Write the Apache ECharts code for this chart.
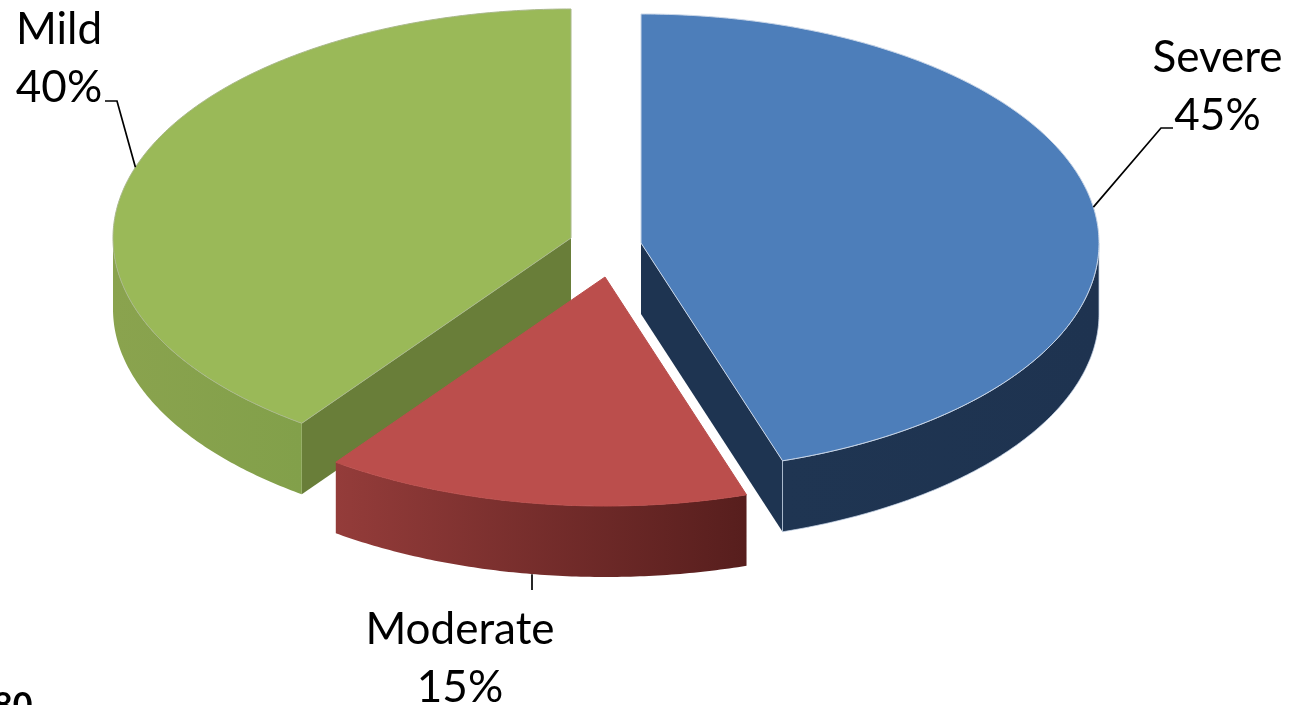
<!DOCTYPE html>
<html>
<head>
<meta charset="utf-8">
<style>html,body{margin:0;padding:0;background:#fff;overflow:hidden}#c{width:1291px;height:705px}</style>
<script src="https://cdn.jsdelivr.net/npm/echarts@6/dist/echarts.min.js"></script>
</head>
<body>
<div id="c"></div>
<script>
const categories = ['Severe', 'Moderate', 'Mild'];
const shares = [45, 15, 40];

const RX = 458, RY = 229, DEPTH = 71;
const FONT = 'Lato, Carlito, "Open Sans", sans-serif';
const sliceStyle = {
  Severe:   {apex: [641, 243], top: '#4D7EBA', cut: '#1E3451', wall: ['#1F3552', '#1E3350'], edge: '#C9D6E8', wallEdge: 'rgba(200,214,232,0.75)', order: 2,
             label: [1217.5, 87], elbow: [[1161, 128], [1173, 128]]},
  Moderate: {apex: [605, 277], top: '#BB4E4C', cut: '#7A2E2C', wall: ['#943C3A', '#571E1D'], edge: '#BB4E4C', order: 3,
             label: [460, 659], elbow: [[532, 590]]},
  Mild:     {apex: [571, 238], top: '#9AB958', cut: '#697E39', wall: ['#8AA34E', '#82A04A'], edge: '#A9B88A', order: 1,
             label: [59, 59], elbow: [[117, 101], [105, 101]]}
};

const total = shares.reduce((a, b) => a + b, 0);
const seriesData = categories.map((name, i) => ({name, value: [shares[i], shares.slice(0, i).reduce((a, b) => a + b, 0)]}));

function rim(st, t, dy) {
  return [st.apex[0] + RX * Math.sin(t), st.apex[1] - RY * Math.cos(t) + (dy || 0)];
}
function arc(st, a, b, dy) {
  const n = Math.max(2, Math.ceil(Math.abs(b - a) / 0.01));
  const pts = [];
  for (let k = 0; k <= n; k++) pts.push(rim(st, a + (b - a) * k / n, dy));
  return pts;
}

function renderSlice(params, api) {
  const name = categories[params.dataIndex];
  const st = sliceStyle[name];
  const a = api.value(1) / total * Math.PI * 2;
  const b = (api.value(1) + api.value(0)) / total * Math.PI * 2;
  const mid = (a + b) / 2;
  const base = st.order * 10;
  const kids = [];

  // straight cut faces that can be seen from the viewer's side
  const faces = [];
  if (Math.sin(b) > 0 && Math.cos(b) < 0) faces.push(b);
  if (Math.sin(a) < 0 && Math.cos(a) < 0) faces.push(a);
  faces.forEach(t => {
    const p = rim(st, t);
    kids.push({type: 'polygon', z2: base,
      shape: {points: [st.apex, p, [p[0], p[1] + DEPTH], [st.apex[0], st.apex[1] + DEPTH]]},
      style: {fill: st.cut}});
  });

  // outer wall: only the part of the rim facing the viewer
  const wa = Math.max(a, Math.PI / 2), wb = Math.min(b, Math.PI * 1.5);
  if (wb > wa) {
    const upper = arc(st, wa, wb, 0), lower = arc(st, wb, wa, DEPTH);
    const xs = upper.map(p => p[0]);
    const x0 = Math.min(...xs), x1 = Math.max(...xs);
    kids.push({type: 'polygon', z2: base + 1,
      shape: {points: upper.concat(lower)},
      style: {fill: new echarts.graphic.LinearGradient(x0, 0, x1, 0,
        [{offset: 0, color: st.wall[0]}, {offset: 1, color: st.wall[1]}], true),
        stroke: st.wallEdge || null, lineWidth: 1}});
  }

  // top face
  kids.push({type: 'polygon', z2: base + 2,
    shape: {points: [st.apex].concat(arc(st, a, b, 0))},
    style: {fill: st.top, stroke: st.edge, lineWidth: 1, lineJoin: 'round'}});

  // leader line from the middle of the rim to the label
  const onWall = Math.cos(mid) < 0;
  const start = rim(st, mid, onWall ? DEPTH : 0);
  if (onWall) start[0] = st.elbow[0][0];
  kids.push({type: 'polyline', z2: 60,
    shape: {points: [start].concat(st.elbow)},
    style: {fill: null, stroke: '#000', lineWidth: 1.7}});

  // label
  kids.push({type: 'text', z2: 61, x: st.label[0], y: st.label[1],
    style: {text: name + '\n' + Math.round(api.value(0) / total * 100) + '%',
      font: '44px ' + FONT, lineHeight: 58, fill: '#000', align: 'center', verticalAlign: 'middle'}});

  return {type: 'group', children: kids};
}

const chart = echarts.init(document.getElementById('c'), null, {renderer: 'canvas'});
chart.setOption({
  animation: false,
  backgroundColor: '#fff',
  graphic: [{type: 'text', left: -7, top: 689,
    style: {text: '80', font: 'bold 34px ' + FONT, fill: '#000'}}],
  series: [{type: 'custom', coordinateSystem: 'none', data: seriesData,
    encode: {value: 0}, renderItem: renderSlice}]
});
</script>
</body>
</html>
